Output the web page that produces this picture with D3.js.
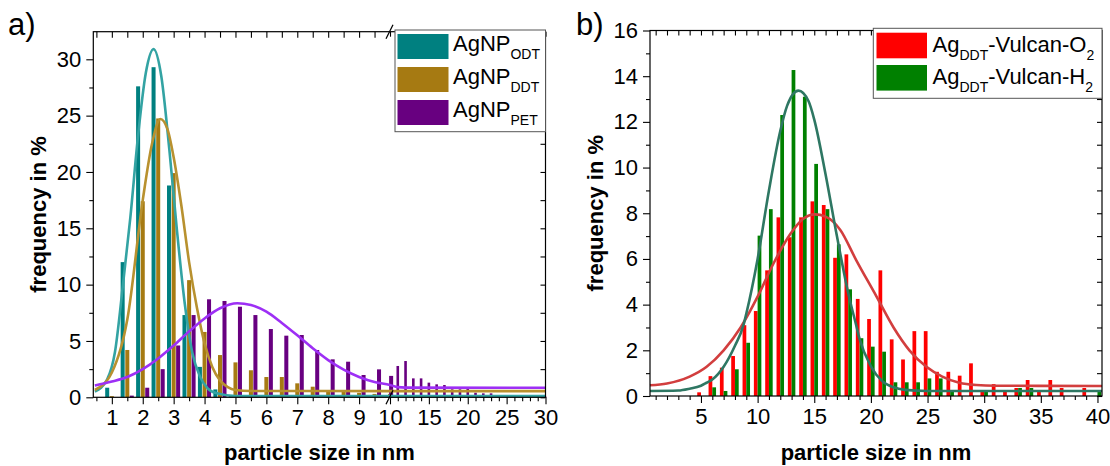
<!DOCTYPE html>
<html><head><meta charset="utf-8">
<script src="https://cdn.jsdelivr.net/npm/d3@7"></script>
<style>
body{margin:0;background:#fff}
text{font-family:Arial,"Liberation Sans",sans-serif;fill:#000}
</style>
</head><body>
<svg id="c" width="1110" height="466"></svg>
<script>
// ---------- DATA: panel a ----------
const binsA = [1.0,1.5,2.0,2.5,3.0,3.5,4.0,4.5,5.0,5.5,6.0,6.5,7.0,7.5,8.0,8.5,9.0,9.5,10.0];
const odt   = [0.85,12.0,27.6,29.3,18.8,7.3,2.7,0.7,0.2,0,0,0,0,0,0,0,0,0,0];
const ddt   = [0.1,4.2,17.4,24.75,19.9,10.4,5.8,3.75,3.1,2.4,1.8,1.8,1.24,0.94,0.5,0.5,0.4,0.3,0.3];
const pet   = [0,0.15,0.85,2.5,4.6,7.3,8.7,8.55,8.04,7.3,6.06,5.47,5.53,4.2,3.37,3.16,1.98,2.48,1.9];
const binsA2 = [11,12,13,14,15,16,17,18,19,20,21,22,23,24,25,26,27,28,29,30];
const pet2   = [2.78,3.22,1.68,1.68,1.3,1.15,1.09,0.71,0.71,0.8,0.41,0.35,0.35,0.2,0.2,0.1,0.1,0.1,0.05,0.05];

const odtFitX = [0.45,0.85,1.1,1.36,1.6,1.84,2.1,2.35,2.6,2.86,3.1,3.36,3.6,3.86,4.1,4.4,5,10,30];
const odtFitY = [0.5,1.6,4,10,16,23,28.8,30.9,28.5,22,15,8.3,4,1.8,0.8,0.35,0.12,0.1,0.1];
const ddtFitX = [0.45,1.0,1.5,2.0,2.3,2.57,2.8,3.0,3.25,3.5,3.75,4.0,4.25,4.5,4.75,5.0,5.5,10,30];
const ddtFitY = [0.65,2.2,6.9,17.5,22.5,24.7,23.8,21.3,17,12,8,4.8,2.7,1.5,0.9,0.65,0.56,0.55,0.55];
const petFitX = [0.45,1.0,1.5,2.0,2.5,3.0,3.5,4.0,4.5,5.06,5.5,6.0,6.5,7.0,7.5,8.0,8.5,9.0,9.5,10,11,12,30];
const petFitY = [1.05,1.4,1.8,2.5,3.45,4.6,5.85,7.0,7.9,8.35,8.2,7.6,6.6,5.5,4.35,3.3,2.45,1.8,1.35,1.1,0.9,0.86,0.85];

const ticksA1 = [1,2,3,4,5,6,7,8,9];
const ticksA2 = [10,15,20,25,30];
const ticksAY = [0,5,10,15,20,25,30];

// ---------- DATA: panel b ----------
const binsB = [5,6,7,8,9,10,11,12,13,14,15,16,17,18,19,20,21,22,23,24,25,26,27,28,29,30,31,32,33,34,35,36,37,38,39,40];
const vulO2 = [0.16,0.87,1.24,1.75,3.1,3.72,5.5,7.82,6.95,7.82,8.52,8.36,6.05,6.2,4.25,3.37,5.5,2.48,1.6,2.84,2.84,1.06,1.06,0.89,1.43,0.19,0.52,0.19,0.35,0.7,0.19,0.7,0.35,0,0.35,0];
const vulH2 = [0,0.38,0.22,1.17,2.33,7.02,8.18,12.3,14.27,13.1,10.16,8.18,6.64,4.67,2.53,2.16,1.94,0.6,0.6,0.6,0.77,0.77,0.2,0,0,0.22,0,0,0.35,0.35,0,0,0,0,0,0.2];

const o2FitX = [0.5,2,4,5.5,7,8.5,10,11.4,12.9,14,15.06,16,17.3,18.7,20.5,22,23.4,24.9,26.3,27.8,29.3,31,40.4];
const o2FitY = [0.47,0.55,0.85,1.28,2.0,3.0,4.35,5.8,7.1,7.75,7.95,7.85,7.27,5.95,4.35,3.0,2.0,1.28,0.85,0.58,0.48,0.45,0.44];
const h2FitX = [0.5,3,4,5,5.5,6,7,8,8.75,9,10,11,12,12.6,13.6,14.5,15,16,17,18,18.7,19,20,21,22,23,25,40.4];
const h2FitY = [0.22,0.24,0.32,0.45,0.58,0.72,1.28,2.2,3.1,3.6,6.0,9.0,11.6,12.7,13.37,12.9,12.1,9.7,7.0,4.5,3.1,2.5,1.3,0.65,0.38,0.27,0.22,0.22];

const ticksBX = [5,10,15,20,25,30,35,40];
const ticksBY = [0,2,4,6,8,10,12,14,16];

// ---------- STYLE ----------
const C = {
  odt:"#008080", odtFit:"#33a3a3",
  ddt:"#a67a12", ddtFit:"#b8912f",
  pet:"#680080", petFit:"#9d2ff5",
  o2:"#ff0000", o2Fit:"#d23e3e",
  h2:"#008000", h2Fit:"#2e7763"
};
const svg = d3.select("#c");

// ---------- PANEL A ----------
const A = {x0:93.3, x1:545.5, y0:31.7, y1:397.3, xb:390};
const xA1 = d3.scaleLinear().domain([0.4,10]).range([A.x0, A.xb]);
const xA2 = d3.scaleLinear().domain([10,30]).range([A.xb, A.x1]);
const xA = v => v <= 10 ? xA1(v) : xA2(v);
const yA = d3.scaleLinear().domain([0,32.45]).range([A.y1, A.y0]);

const gA = svg.append("g");
const bw = xA1(0.13) - xA1(0);
function barsA(vals, off, color){
  gA.append("g").selectAll("rect").data(binsA.map((b,i)=>[b,vals[i]])).join("rect")
    .attr("x", d => xA(d[0]+off) - bw/2).attr("width", bw)
    .attr("y", d => yA(d[1])).attr("height", d => yA(0) - yA(d[1]))
    .attr("fill", color);
}
barsA(odt, -0.15, C.odt);
barsA(ddt, 0, C.ddt);
barsA(pet, 0.145, C.pet);
gA.append("g").selectAll("rect").data(binsA2.map((b,i)=>[b,pet2[i]])).join("rect")
  .attr("x", d => xA2(d[0]) - 1.3).attr("width", 2.6)
  .attr("y", d => yA(d[1])).attr("height", d => yA(0) - yA(d[1]))
  .attr("fill", C.pet);

const lineA = d3.line().x(d=>xA(d[0])).y(d=>yA(d[1])).curve(d3.curveMonotoneX);
[[odtFitX,odtFitY,C.odtFit],[ddtFitX,ddtFitY,C.ddtFit],[petFitX,petFitY,C.petFit]].forEach(([xs,ys,c])=>{
  gA.append("path").datum(d3.zip(xs,ys)).attr("d", lineA)
    .attr("fill","none").attr("stroke",c).attr("stroke-width",2.6);
});

// axes A
function styleAxis(g){ g.select(".domain").remove(); g.selectAll("line").attr("stroke","#000").attr("stroke-width",1.1);
  g.selectAll("text").attr("font-size","22px").attr("font-family","Arial, 'Liberation Sans', sans-serif"); }
const minorA1 = d3.range(0.5,10,1);
const minorA2 = d3.range(11,30,1).filter(v=>v%5!==0);
// bottom
gA.append("g").attr("transform",`translate(0,${A.y1})`).call(d3.axisBottom(xA1).tickValues(ticksA1).tickSize(7).tickPadding(5).tickFormat(d3.format("d"))).call(styleAxis);
gA.append("g").attr("transform",`translate(0,${A.y1})`).call(d3.axisBottom(xA2).tickValues(ticksA2).tickSize(7).tickPadding(5).tickFormat(d3.format("d"))).call(styleAxis);
gA.append("g").attr("transform",`translate(0,${A.y1})`).call(d3.axisBottom(xA1).tickValues(minorA1).tickSize(4).tickFormat("")).call(styleAxis);
gA.append("g").attr("transform",`translate(0,${A.y1})`).call(d3.axisBottom(xA2).tickValues(minorA2).tickSize(4).tickFormat("")).call(styleAxis);
// top (inward)
gA.append("g").attr("transform",`translate(0,${A.y0})`).call(d3.axisTop(xA1).tickValues(ticksA1.concat(minorA1)).tickSize(-6).tickFormat("")).call(styleAxis);
gA.append("g").attr("transform",`translate(0,${A.y0})`).call(d3.axisTop(xA2).tickValues(ticksA2.concat(minorA2)).tickSize(-5).tickFormat("")).call(styleAxis);
// left
gA.append("g").attr("transform",`translate(${A.x0},0)`).call(d3.axisLeft(yA).tickValues(ticksAY).tickSize(7).tickPadding(5)).call(styleAxis);
gA.append("g").attr("transform",`translate(${A.x0},0)`).call(d3.axisLeft(yA).tickValues(d3.range(2.5,32,5)).tickSize(4).tickFormat("")).call(styleAxis);
// right (inward)
gA.append("g").attr("transform",`translate(${A.x1},0)`).call(d3.axisRight(yA).tickValues(d3.range(0,32.5,2.5)).tickSize(-5).tickFormat("")).call(styleAxis);
// frame
gA.append("rect").attr("x",A.x0).attr("y",A.y0).attr("width",A.x1-A.x0).attr("height",A.y1-A.y0)
  .attr("fill","none").attr("stroke","#000").attr("stroke-width",1.2);
// break marks
[[A.y0],[A.y1]].forEach(([yy])=>{
  gA.append("line").attr("x1",A.xb-4).attr("y1",yy+7).attr("x2",A.xb+3).attr("y2",yy-7)
    .attr("stroke","#000").attr("stroke-width",1.2);
});

// legend A
const legA = gA.append("g");
legA.append("rect").attr("x",395).attr("y",30).attr("width",A.x1-395).attr("height",101.7)
  .attr("fill","#fff").attr("stroke","#555").attr("stroke-width",1);
[["ODT",C.odt],["DDT",C.ddt],["PET",C.pet]].forEach(([s,c],i)=>{
  legA.append("rect").attr("x",397.5).attr("y",34+i*33).attr("width",51).attr("height",25).attr("fill",c);
  const t = legA.append("text").attr("x",453).attr("y",51+i*33).attr("font-size","22px");
  t.append("tspan").text("AgNP");
  t.append("tspan").attr("font-size","14px").attr("dy",8).text(s);
});

// labels A
svg.append("text").attr("x",8).attr("y",35).attr("font-size","31px").text("a)");
svg.append("text").attr("x",(A.x0+A.x1)/2).attr("y",460).attr("text-anchor","middle")
  .attr("font-size","22px").attr("font-weight","bold").text("particle size in nm");
svg.append("text").attr("transform",`translate(46,${(A.y0+A.y1)/2}) rotate(-90)`).attr("text-anchor","middle")
  .attr("font-size","22px").attr("font-weight","bold").text("frequency in %");

// ---------- PANEL B ----------
const B = {x0:650, x1:1102, y0:30.5, y1:396};
const xB = d3.scaleLinear().domain([0.5,40.4]).range([B.x0,B.x1]);
const yB = d3.scaleLinear().domain([0,16]).range([B.y1,B.y0]);
const gB = svg.append("g");
const bwB = xB(0.33)-xB(0);
function barsB(vals, off, color){
  gB.append("g").selectAll("rect").data(binsB.map((b,i)=>[b,vals[i]])).join("rect")
    .attr("x", d => xB(d[0]+off) - bwB/2).attr("width", bwB)
    .attr("y", d => yB(d[1])).attr("height", d => yB(0)-yB(d[1]))
    .attr("fill", color);
}
barsB(vulO2, -0.165, C.o2);
barsB(vulH2, 0.165, C.h2);
const lineB = d3.line().x(d=>xB(d[0])).y(d=>yB(d[1])).curve(d3.curveMonotoneX);
[[o2FitX,o2FitY,C.o2Fit],[h2FitX,h2FitY,C.h2Fit]].forEach(([xs,ys,c])=>{
  gB.append("path").datum(d3.zip(xs,ys)).attr("d", lineB)
    .attr("fill","none").attr("stroke",c).attr("stroke-width",2.6);
});
const minorBX = d3.range(1,41,1).filter(v=>v%5!==0);
gB.append("g").attr("transform",`translate(0,${B.y1})`).call(d3.axisBottom(xB).tickValues(ticksBX).tickSize(7).tickPadding(5).tickFormat(d3.format("d"))).call(styleAxis);
gB.append("g").attr("transform",`translate(0,${B.y1})`).call(d3.axisBottom(xB).tickValues(minorBX).tickSize(4).tickFormat("")).call(styleAxis);
gB.append("g").attr("transform",`translate(0,${B.y0})`).call(d3.axisTop(xB).tickValues(d3.range(1,41,1)).tickSize(-5).tickFormat("")).call(styleAxis);
gB.append("g").attr("transform",`translate(${B.x0},0)`).call(d3.axisLeft(yB).tickValues(ticksBY).tickSize(7).tickPadding(5)).call(styleAxis);
gB.append("g").attr("transform",`translate(${B.x0},0)`).call(d3.axisLeft(yB).tickValues(d3.range(1,16,2)).tickSize(4).tickFormat("")).call(styleAxis);
gB.append("g").attr("transform",`translate(${B.x1},0)`).call(d3.axisRight(yB).tickValues(d3.range(0,16.5,1)).tickSize(-5).tickFormat("")).call(styleAxis);
gB.append("rect").attr("x",B.x0).attr("y",B.y0).attr("width",B.x1-B.x0).attr("height",B.y1-B.y0)
  .attr("fill","none").attr("stroke","#000").attr("stroke-width",1.2);

// legend B
const legB = gB.append("g");
legB.append("rect").attr("x",873.3).attr("y",28.3).attr("width",B.x1-873.3).attr("height",70)
  .attr("fill","#fff").attr("stroke","#555").attr("stroke-width",1);
[["O",C.o2],["H",C.h2]].forEach(([s,c],i)=>{
  legB.append("rect").attr("x",876.5).attr("y",32.7+i*32.3).attr("width",50.5).attr("height",25.6).attr("fill",c);
  const t = legB.append("text").attr("x",932.5).attr("y",51.5+i*32.3).attr("font-size","22px");
  t.append("tspan").text("Ag");
  t.append("tspan").attr("font-size","14px").attr("dy",8).text("DDT");
  t.append("tspan").attr("dy",-8).text("-Vulcan-"+s);
  t.append("tspan").attr("font-size","14px").attr("dy",8).text("2");
});

svg.append("text").attr("x",576).attr("y",35).attr("font-size","31px").text("b)");
svg.append("text").attr("x",(B.x0+B.x1)/2).attr("y",460).attr("text-anchor","middle")
  .attr("font-size","22px").attr("font-weight","bold").text("particle size in nm");
svg.append("text").attr("transform",`translate(603,${(B.y0+B.y1)/2}) rotate(-90)`).attr("text-anchor","middle")
  .attr("font-size","22px").attr("font-weight","bold").text("frequency in %");
</script>
</body></html>
